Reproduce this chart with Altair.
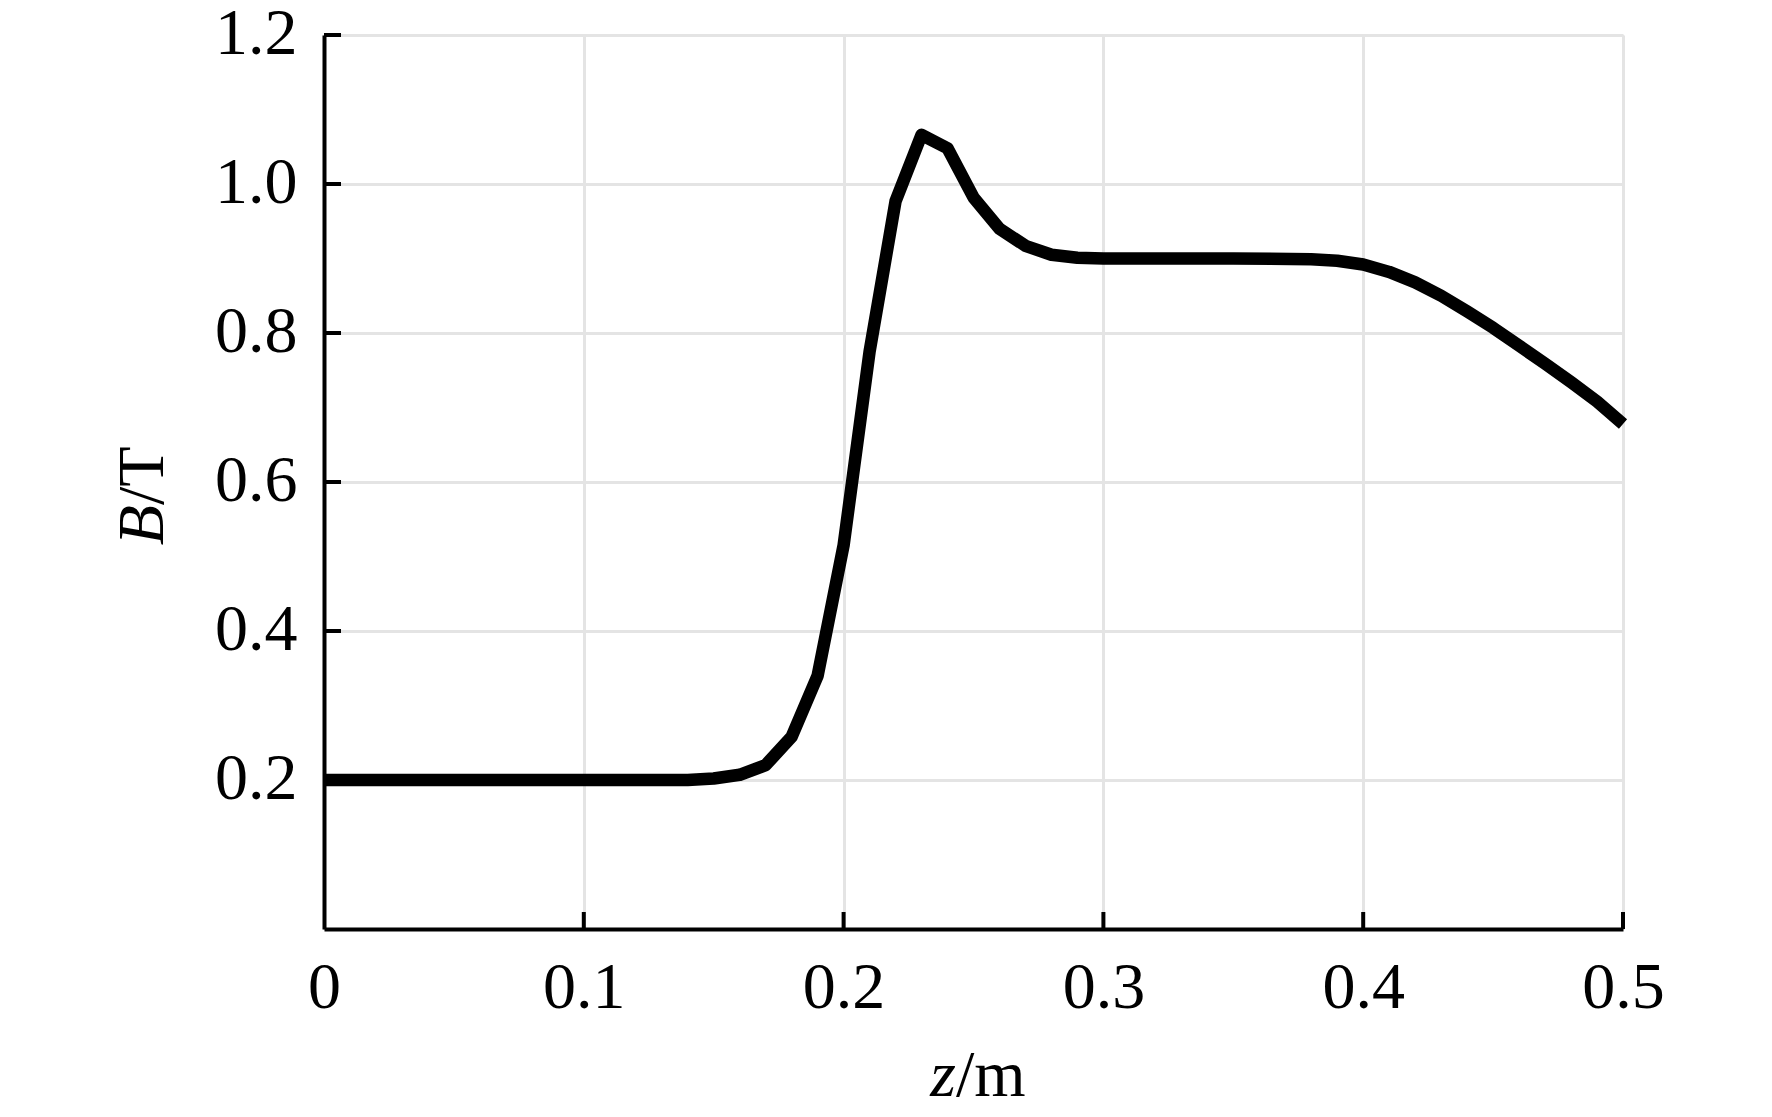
import altair as alt
import pandas as pd

# Curve B(z)
z_vals = [0.00, 0.05, 0.10, 0.14, 0.15, 0.16, 0.17, 0.18, 0.19, 0.20, 0.21, 0.22,
          0.23, 0.24, 0.25, 0.26, 0.27, 0.28, 0.29, 0.30, 0.35, 0.38, 0.39, 0.40,
          0.41, 0.42, 0.43, 0.44, 0.45, 0.46, 0.47, 0.48, 0.49, 0.50]
b_vals = [0.200, 0.200, 0.200, 0.200, 0.202, 0.207, 0.220, 0.258, 0.340, 0.515, 0.775, 0.977,
          1.066, 1.048, 0.982, 0.940, 0.917, 0.905, 0.901, 0.900, 0.900, 0.899, 0.897, 0.892,
          0.882, 0.868, 0.850, 0.829, 0.807, 0.783, 0.759, 0.734, 0.708, 0.678]

x_ticks = [0.0, 0.1, 0.2, 0.3, 0.4, 0.5]
y_ticks = [0.2, 0.4, 0.6, 0.8, 1.0, 1.2]

W, H = 1299, 894
FONT = "Liberation Serif"
FS = 66

df = pd.DataFrame({"z": z_vals, "B": b_vals})
dfx = pd.DataFrame({"z": x_ticks[1:]})
dfy = pd.DataFrame({"B": y_ticks})

xscale = alt.Scale(domain=[0, 0.5], nice=False, zero=False)
yscale = alt.Scale(domain=[0, 1.2], nice=False, zero=False)

xaxis = alt.Axis(values=x_ticks, title=None, grid=True, gridColor="#e4e4e4", gridWidth=3,
                 domainColor="black", domainWidth=4, ticks=False, tickSize=0,
                 labelFont=FONT, labelFontSize=FS, labelColor="black",
                 labelBaseline="alphabetic", labelPadding=78, labelFlush=False,
                 labelExpr="datum.value == 0 ? '0' : format(datum.value, '.1f')")
yaxis = alt.Axis(values=y_ticks, title=None, grid=True, gridColor="#e4e4e4", gridWidth=3,
                 domainColor="black", domainWidth=4, ticks=False, tickSize=0,
                 labelFont=FONT, labelFontSize=FS, labelColor="black",
                 labelBaseline="alphabetic", labelOffset=18, labelPadding=27,
                 labelFlush=False, format=".1f")

line = alt.Chart(df).mark_line(color="black", strokeWidth=12.5, strokeJoin="round",
                               strokeCap="butt").encode(
    x=alt.X("z:Q", scale=xscale, axis=xaxis),
    y=alt.Y("B:Q", scale=yscale, axis=yaxis),
)

xt = alt.Chart(dfx).mark_rule(color="black", strokeWidth=4).encode(
    x=alt.X("z:Q", scale=xscale),
    y=alt.value(H), y2=alt.value(H - 17),
)
yt = alt.Chart(dfy).mark_rule(color="black", strokeWidth=4).encode(
    y=alt.Y("B:Q", scale=yscale),
    x=alt.value(0), x2=alt.value(17),
)

def txt(s, x, y, align, italic, angle=0):
    kw = dict(text=s, font=FONT, fontSize=FS, color="black", align=align,
              baseline="alphabetic", fontStyle="italic" if italic else "normal")
    if angle:
        kw["angle"] = angle
    return alt.Chart(pd.DataFrame({"a": [0]})).mark_text(**kw).encode(
        x=alt.value(x), y=alt.value(y))

xt1 = txt("z", 632, 1061, "right", True)
xt2 = txt("/m", 632, 1061, "left", False)
yt1 = txt("B", -161, 470, "right", True, 270)
yt2 = txt("/T", -161, 470, "left", False, 270)

chart = alt.layer(line, xt, yt, xt1, xt2, yt1, yt2).properties(
    width=W, height=H,
    autosize=alt.AutoSizeParams(type="none"),
    padding={"left": 316, "top": 27, "right": 100, "bottom": 185},
).configure_view(stroke=None).configure(background="white")

chart.save("out.html", embed_options={"renderer": "svg", "actions": False})
